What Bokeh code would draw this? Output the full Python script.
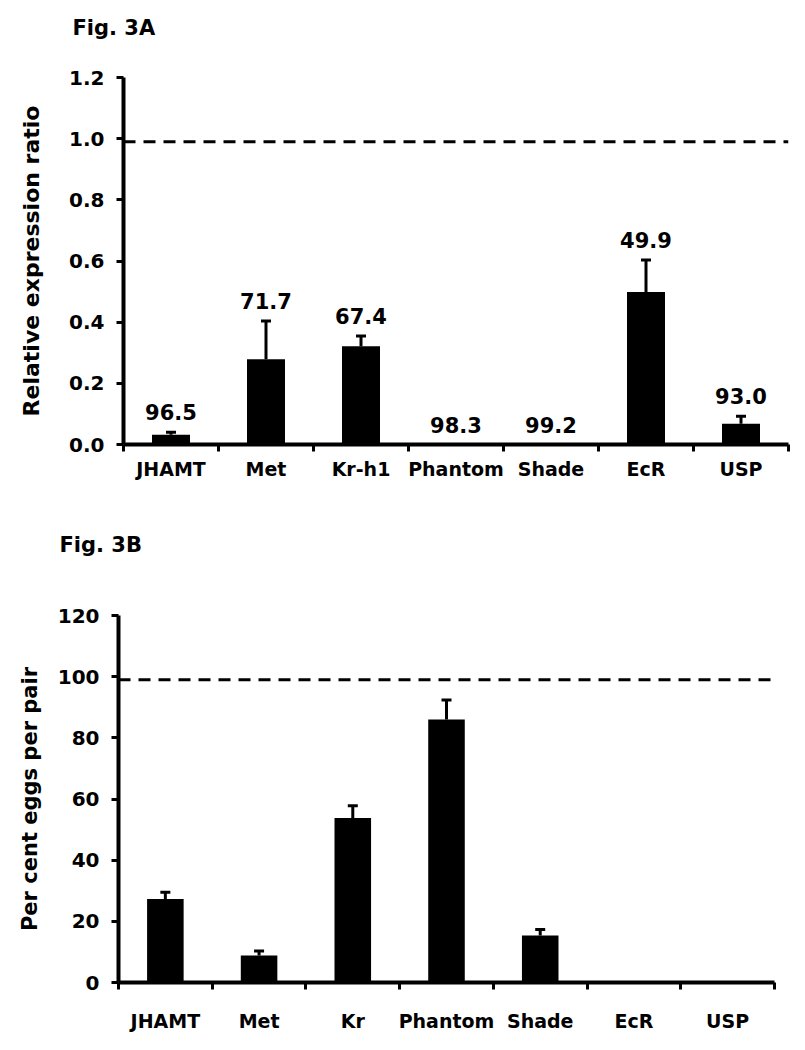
from bokeh.plotting import figure
from bokeh.models import (Range1d, FixedTicker, PrintfTickFormatter, Span, Whisker,
                          TeeHead, ColumnDataSource, Title, Spacer)
from bokeh.layouts import column, row
from bokeh.embed import file_html
from bokeh.resources import INLINE
from bokeh.core.properties import value

FONT = "DejaVu Sans"

# ---------------- data ----------------
genes_a = ["JHAMT", "Met", "Kr-h1", "Phantom", "Shade", "EcR", "USP"]
ratio = [0.032, 0.279, 0.321, 0.0, 0.0, 0.499, 0.068]
ratio_err = [0.008, 0.125, 0.034, 0.0, 0.0, 0.104, 0.024]
knockdown = ["96.5", "71.7", "67.4", "98.3", "99.2", "49.9", "93.0"]
ratio_ticks = [0.0, 0.2, 0.4, 0.6, 0.8, 1.0, 1.2]
ratio_control = 0.99

genes_b = ["JHAMT", "Met", "Kr", "Phantom", "Shade", "EcR", "USP"]
eggs = [27.3, 8.8, 53.8, 86.0, 15.4, 0.0, 0.0]
eggs_err = [2.2, 1.5, 4.0, 6.4, 1.9, 0.0, 0.0]
eggs_ticks = [0, 20, 40, 60, 80, 100, 120]
eggs_control = 99


def panel(genes, vals, errs, yticks, fmt, control, ytitle, title, width, height,
          borders, bar_width, xlabel_standoff, ytitle_size, ytitle_standoff,
          title_offset, spacer_standoff, labels=None):
    n = len(genes)
    left, right, top, bottom = borders
    p = figure(width=width, height=height, output_backend="svg", toolbar_location=None,
               title=None,
               x_range=Range1d(0, n), y_range=Range1d(yticks[0], yticks[-1]),
               min_border_left=left, min_border_right=right,
               min_border_top=top, min_border_bottom=bottom,
               background_fill_color="white", border_fill_color="white")
    p.outline_line_color = None
    p.xgrid.visible = False
    p.ygrid.visible = False

    # spacer (closest to the frame) then the panel title above it
    p.add_layout(Title(text=" ", standoff=spacer_standoff, text_font=FONT,
                       text_font_size="21px", text_color="white"), "above")
    p.add_layout(Title(text=title, align="left", offset=title_offset, standoff=0,
                       text_font=FONT, text_font_style="bold", text_font_size="21px",
                       text_color="black"), "above")

    xs = [i + 0.5 for i in range(n)]
    src = ColumnDataSource(dict(x=xs, top=vals))
    p.vbar(x="x", top="top", bottom=0, width=bar_width, source=src,
           fill_color="black", line_color=None)

    wsrc = ColumnDataSource(dict(
        x=[x for x, e in zip(xs, errs) if e > 0],
        lower=[v for v, e in zip(vals, errs) if e > 0],
        upper=[v + e for v, e in zip(vals, errs) if e > 0]))
    w = Whisker(source=wsrc, base="x", lower="lower", upper="upper", dimension="height",
                line_width=3, line_color="black",
                upper_head=TeeHead(size=10, line_width=3, line_color="black"),
                lower_head=None)
    p.add_layout(w)

    p.add_layout(Span(location=control, dimension="width", line_color="black",
                      line_width=3, line_dash="12 8"))

    if labels is not None:
        lsrc = ColumnDataSource(dict(x=xs, y=[v + e for v, e in zip(vals, errs)], t=labels))
        p.text(x="x", y="y", text="t", source=lsrc, text_align="center",
               text_baseline="alphabetic", y_offset=-20,
               text_font=value(FONT), text_font_style="bold", text_font_size="21px",
               text_color="black")

    # x axis: labels at category centres, tick marks at boundaries
    xa = p.xaxis[0]
    xa.ticker = FixedTicker(ticks=xs, minor_ticks=list(range(n + 1)))
    xa.major_label_overrides = {x: g for x, g in zip(xs, genes)}
    xa.major_tick_line_color = None
    xa.minor_tick_in = 0
    xa.minor_tick_out = 7
    xa.minor_tick_line_width = 3
    xa.minor_tick_line_color = "black"
    xa.axis_line_width = 4
    xa.axis_line_color = "black"
    xa.major_label_standoff = xlabel_standoff
    xa.major_label_text_font = FONT
    xa.major_label_text_font_style = "bold"
    xa.major_label_text_font_size = "19px"
    xa.major_label_text_color = "black"

    ya = p.yaxis[0]
    ya.ticker = FixedTicker(ticks=yticks, minor_ticks=[])
    ya.formatter = PrintfTickFormatter(format=fmt)
    ya.major_tick_in = 0
    ya.major_tick_out = 7
    ya.major_tick_line_width = 3
    ya.major_tick_line_color = "black"
    ya.minor_tick_line_color = None
    ya.axis_line_width = 4
    ya.axis_line_color = "black"
    ya.major_label_standoff = 12
    ya.major_label_text_font = FONT
    ya.major_label_text_font_style = "bold"
    ya.major_label_text_font_size = "20px"
    ya.major_label_text_color = "black"
    ya.axis_label = ytitle
    ya.axis_label_text_font = FONT
    ya.axis_label_text_font_style = "bold"
    ya.axis_label_text_font_size = ytitle_size
    ya.axis_label_text_color = "black"
    ya.axis_label_standoff = ytitle_standoff
    return p


pa = panel(genes_a, ratio, ratio_err, ratio_ticks, "%.1f", ratio_control,
           "Relative expression ratio", "Fig. 3A", 795, 500,
           (118, 12, 77, 56), 0.4, 6, "22px", 22, -51, 12, labels=knockdown)
pb = panel(genes_b, eggs, eggs_err, eggs_ticks, "%d", eggs_control,
           "Per cent eggs per pair", "Fig. 3B", 800, 540,
           (118, 26, 115, 58), 0.39, 20, "21px", 13, -59, 33)

layout = column(row(Spacer(width=5, height=500), pa), pb)
open("out.html", "w").write(file_html(layout, INLINE))
